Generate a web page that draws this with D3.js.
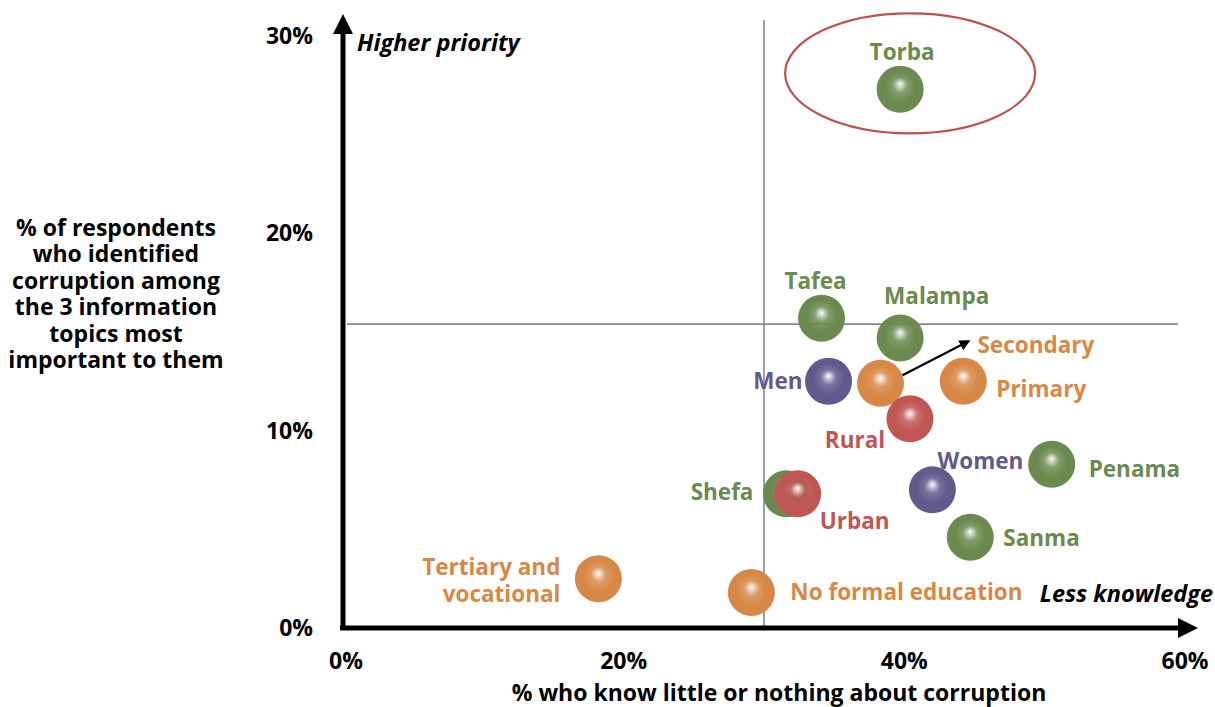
<!DOCTYPE html>
<html>
<head>
<meta charset="utf-8">
<script src="https://cdn.jsdelivr.net/npm/d3@7"></script>
<style>
  body { margin: 0; background: #fff; }
  text { font-family: "Open Sans", "Noto Sans", sans-serif; font-weight: 700; }
</style>
</head>
<body>
<div id="container"></div>
<script>
// data
let names   = ["Torba", "Tafea", "Malampa", "Men", "Secondary", "Primary", "Rural", "Penama", "Women", "Shefa", "Urban", "Sanma", "Tertiary and vocational", "No formal education"];
let groups  = ["prov", "prov", "prov", "sex", "edu", "edu", "area", "prov", "sex", "prov", "area", "prov", "edu", "edu"];
let knowLittle = [39.7, 34.1, 39.7, 34.6, 38.3, 44.2, 40.4, 50.5, 42.0, 31.6, 32.4, 44.7, 18.2, 29.1];
let priority   = [27.3, 15.7, 14.7, 12.5, 12.4, 12.5, 10.6, 8.3, 7.0, 6.8, 6.8, 4.6, 2.5, 1.8];
let xTicks = [0, 20, 40, 60];
let yTicks = [0, 10, 20, 30];
let refX = 30.0;
let refY = 15.4;

let colors = { prov: "#6b8a4f", sex: "#625a8c", edu: "#d78847", area: "#bf5654" };

// label layout: dx, dy relative to the ball centre, and text-anchor
let labelPos = {
  "Torba": [2, -29, "middle"],
  "Tafea": [-6, -29, "middle"],
  "Malampa": [-16, -34, "start"],
  "Men": [-26, 8, "end"],
  "Secondary": [97, -30, "start"],
  "Primary": [33, 16, "start"],
  "Rural": [-55, 29, "middle"],
  "Penama": [37, 13, "start"],
  "Women": [91, -21, "end"],
  "Shefa": [-33, 6, "end"],
  "Urban": [22, 35, "start"],
  "Sanma": [33, 9, "start"],
  "Tertiary and vocational": [-38, -4, "end"],
  "No formal education": [39, 8, "start"]
};

let width = 1215, height = 707;
let svg = d3.select("#container").append("svg")
  .attr("width", width).attr("height", height);

let x = d3.scaleLinear().domain([0, 60]).range([343, 1185]);
let y = d3.scaleLinear().domain([0, 30]).range([628, 36]);

let defs = svg.append("defs");
Object.keys(colors).forEach(function (k) {
  let g = defs.append("radialGradient").attr("id", "ball-" + k)
    .attr("cx", "50%").attr("cy", "50%").attr("r", "55%")
    .attr("fx", "50%").attr("fy", "38%");
  g.append("stop").attr("offset", "0%").attr("stop-color", "#ffffff");
  g.append("stop").attr("offset", "30%").attr("stop-color", colors[k]).attr("stop-opacity", 0.85);
  g.append("stop").attr("offset", "60%").attr("stop-color", colors[k]);
  g.append("stop").attr("offset", "100%").attr("stop-color", colors[k]);
});
defs.append("marker").attr("id", "arr").attr("viewBox", "0 0 10 10")
  .attr("refX", 5).attr("refY", 5).attr("markerWidth", 4).attr("markerHeight", 4)
  .attr("orient", "auto")
  .append("path").attr("d", "M0,0 L10,5 L0,10 z").attr("fill", "#000");
defs.append("marker").attr("id", "arrSmall").attr("viewBox", "0 0 10 10")
  .attr("refX", 8).attr("refY", 5).attr("markerWidth", 5).attr("markerHeight", 5)
  .attr("orient", "auto")
  .append("path").attr("d", "M0,0 L10,5 L0,10 z").attr("fill", "#000");

// reference lines
svg.append("line").attr("x1", x(refX)).attr("x2", x(refX)).attr("y1", 20).attr("y2", y(0))
  .attr("stroke", "#88878f").attr("stroke-width", 1.6);
svg.append("line").attr("x1", 347).attr("x2", 1178).attr("y1", y(refY)).attr("y2", y(refY))
  .attr("stroke", "#88878f").attr("stroke-width", 1.6);

// axes as thick arrows
svg.append("line").attr("x1", x(0)).attr("x2", x(0)).attr("y1", y(0) + 2).attr("y2", 24)
  .attr("stroke", "#000").attr("stroke-width", 5).attr("marker-end", "url(#arr)");
svg.append("line").attr("x1", x(0) - 3).attr("x2", 1188).attr("y1", y(0)).attr("y2", y(0))
  .attr("stroke", "#000").attr("stroke-width", 5).attr("marker-end", "url(#arr)");

// tick labels
svg.selectAll(".ytick").data(yTicks).enter().append("text")
  .attr("x", 313).attr("y", d => y(d)).attr("dy", "0.35em")
  .attr("text-anchor", "end").style("font-size", "23px").text(d => d + "%");
svg.selectAll(".xtick").data(xTicks).enter().append("text")
  .attr("x", d => x(d) + (d === 0 ? 3 : 0)).attr("y", 669)
  .attr("text-anchor", "middle").style("font-size", "23px").text(d => d + "%");

// titles
svg.append("text").attr("x", 779).attr("y", 701).attr("text-anchor", "middle")
  .style("font-size", "23px").text("% who know little or nothing about corruption");
let yTitle = ["% of respondents", "who identified", "corruption among", "the 3 information", "topics most", "important to them"];
svg.append("text").attr("text-anchor", "middle").style("font-size", "23px")
  .selectAll("tspan").data(yTitle).enter().append("tspan")
  .attr("x", 116).attr("y", (d, i) => 236 + i * 26.4).text(d => d);

svg.append("text").attr("x", 357).attr("y", 51).style("font-size", "23.5px").style("font-style", "italic")
  .text("Higher priority");
svg.append("text").attr("x", 1213).attr("y", 602).attr("text-anchor", "end")
  .style("font-size", "23.5px").style("font-style", "italic").text("Less knowledge");

// highlight ellipse around Torba
svg.append("ellipse").attr("cx", x(knowLittle[0]) + 10).attr("cy", y(priority[0]) - 16)
  .attr("rx", 125).attr("ry", 60)
  .attr("fill", "none").attr("stroke", "#c0504d").attr("stroke-width", 2.2);

let points = names.map((n, i) => ({ name: n, group: groups[i], x: knowLittle[i], y: priority[i] }));

// balls (Shefa before Urban so Urban overlaps)
svg.selectAll(".ball").data(points).enter().append("circle")
  .attr("cx", d => x(d.x)).attr("cy", d => y(d.y)).attr("r", 23.5)
  .attr("fill", d => "url(#ball-" + d.group + ")");

// arrow from Secondary ball to its label
let sec = points[4];
svg.append("line").attr("x1", x(sec.x) + 22).attr("y1", y(sec.y) - 8)
  .attr("x2", x(sec.x) + 88).attr("y2", y(sec.y) - 42)
  .attr("stroke", "#000").attr("stroke-width", 2.2).attr("marker-end", "url(#arrSmall)");

// labels
points.forEach(function (d) {
  let p = labelPos[d.name];
  let t = svg.append("text").attr("text-anchor", p[2]).style("font-size", "22.5px")
    .attr("fill", colors[d.group]);
  if (d.name === "Tertiary and vocational") {
    t.append("tspan").attr("x", x(d.x) + p[0]).attr("y", y(d.y) + p[1]).text("Tertiary and");
    t.append("tspan").attr("x", x(d.x) + p[0]).attr("y", y(d.y) + p[1] + 27).text("vocational");
  } else {
    t.attr("x", x(d.x) + p[0]).attr("y", y(d.y) + p[1]).text(d.name);
  }
});
</script>
</body>
</html>
